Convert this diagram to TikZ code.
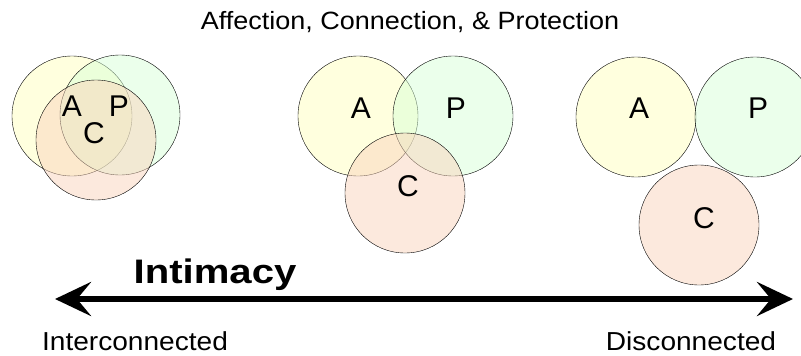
\documentclass[tikz,border=0pt]{standalone}
\usepackage{fontspec}
\setmainfont{Liberation Sans}
\newfontfamily\widefont[FakeStretch=1.08]{Liberation Sans}
\newfontfamily\boldwidefont[FakeStretch=1.18]{Liberation Sans Bold}
\usetikzlibrary{arrows.meta}
\usetikzlibrary{positioning}
\definecolor{ringyellow}{RGB}{255,255,190}
\definecolor{ringgreen}{RGB}{215,255,215}
\definecolor{ringpeach}{RGB}{250,212,188}
\tikzset{x = 1pt, y = -1pt,
  ring/.style = {circle, draw, thin, minimum size = 120pt, inner sep = 0pt, fill opacity = 0.5},
  ringA/.style = {ring, fill = ringyellow},
  ringP/.style = {ring, fill = ringgreen},
  ringC/.style = {ring, fill = ringpeach},
  letter/.style = {font = \fontsize{30}{30}\selectfont, inner sep = 0pt},
  caption/.style = {font = \widefont\fontsize{26}{26}\selectfont, inner sep = 0pt, anchor = base},
  bighead/.tip = {Stealth[length = 36pt, width = 34pt, inset = 14pt]}}

\begin{document}
\begin{tikzpicture}
  \useasboundingbox (0,0) rectangle (801,356);
  % title
  \node [caption, font = \widefont\fontsize{25}{25}\selectfont] (title) at (410,30) {Affection, Connection, \& Protection};
  % interconnected
  \node [ringA] (a1) at (72,116) {};
  \node [ringP] (p1) at (120,115) {};
  \node [ringC] (c1) at (96,140) {};
  \node [letter] (la1) at (72,106) {A};
  \node [letter] (lp1) at (119,106) {P};
  \node [letter] (lc1) at (94,133) {C};
  % overlapping
  \node [ringA] (a2) at (358,116) {};
  \node [ringP] (p2) at (453,116) {};
  \node [ringC] (c2) at (405,193) {};
  \node [letter] (la2) at (361,108) {A};
  \node [letter] (lp2) at (456,108) {P};
  \node [letter] (lc2) at (408,186) {C};
  % disconnected
  \node [ringA] (a3) at (636,117) {};
  \node [ringP] (p3) at (755,117) {};
  \node [ringC] (c3) at (699,225) {};
  \node [letter] (la3) at (639,108) {A};
  \node [letter] (lp3) at (758,108) {P};
  \node [letter] (lc3) at (704,218) {C};
  % scale
  \coordinate (left) at (55,299);
  \coordinate (right) at (793,299);
  \draw [line width = 6pt, bighead-bighead] (left) -- (right);
  \node [caption, font = \boldwidefont\fontsize{34}{34}\selectfont] (intimacy) at (215,283) {Intimacy};
  \node [caption] (inter) at (135,350) {Interconnected};
  \node [caption] (dis) at (691,350) {Disconnected};
\end{tikzpicture}
\end{document}
